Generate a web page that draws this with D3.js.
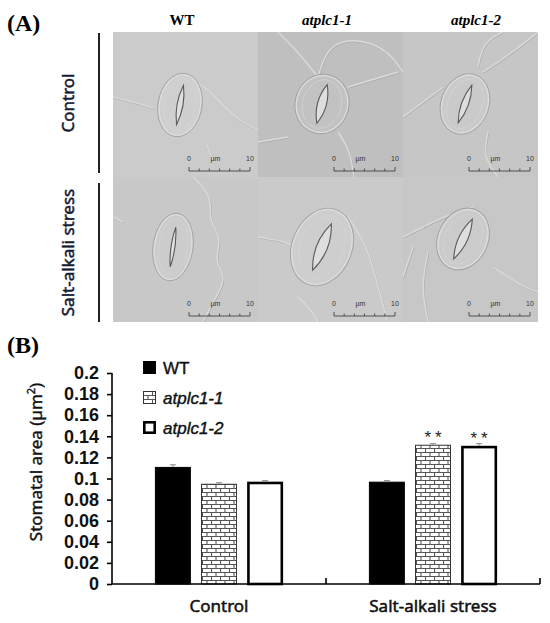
<!DOCTYPE html>
<html>
<head>
<meta charset="utf-8">
<script src="https://cdn.jsdelivr.net/npm/d3@7"></script>
<style>
body { margin: 0; background: #fff; }
</style>
</head>
<body>
<div id="chart"></div>
<script>
// dados do gráfico (B)
const categories = ["Control", "Salt-alkali stress"];
const series = ["WT", "atplc1-1", "atplc1-2"];
const wtValues = [0.111, 0.097];
const plc1Values = [0.095, 0.132];
const plc2Values = [0.097, 0.131];
const wtErrors = [0.002, 0.001];
const plc1Errors = [0.001, 0.001];
const plc2Errors = [0.001, 0.002];
const plc1Stars = ["", "**"];
const plc2Stars = ["", "**"];
const yTicks = [0, 0.02, 0.04, 0.06, 0.08, 0.1, 0.12, 0.14, 0.16, 0.18, 0.2];

// painel (A)
const columnTitles = ["WT", "atplc1-1", "atplc1-2"];
const rowTitles = ["Control", "Salt-alkali stress"];

const width = 550, height = 623;

const svg = d3.select("#chart").append("svg")
	.attr("width", width)
	.attr("height", height);

const defs = svg.append("defs");

// padrão de tijolos
const brick = defs.append("pattern")
	.attr("id", "brick")
	.attr("patternUnits", "userSpaceOnUse")
	.attr("width", 9).attr("height", 8);
brick.append("rect").attr("width", 9).attr("height", 8).attr("fill", "#fff");
brick.append("path")
	.attr("d", "M0,0.5H9M0,4.5H9M0.5,0.5V4.5M5,4.5V8.5")
	.attr("stroke", "#555").attr("stroke-width", 1.1).attr("fill", "none");

// ---------- painel A ----------
svg.append("text")
	.attr("x", 7).attr("y", 31)
	.attr("font-family", "Liberation Serif")
	.attr("font-weight", "bold")
	.attr("font-size", 24)
	.text("(A)");

const colX = [113, 258, 403];
const colW = [145, 145, 135];
const rowY = [32, 177];
const rowH = [145, 145];
const colTitleX = [182, 327, 476];

columnTitles.forEach((t, i) => {
	svg.append("text")
		.attr("x", colTitleX[i]).attr("y", 25)
		.attr("text-anchor", "middle")
		.attr("font-family", "Liberation Serif")
		.attr("font-weight", "bold")
		.attr("font-style", i === 0 ? "normal" : "italic")
		.attr("font-size", 15)
		.text(t);
});

const rowLines = [[33, 173], [183, 322]];
rowTitles.forEach((t, i) => {
	svg.append("line")
		.attr("x1", 99).attr("x2", 99)
		.attr("y1", rowLines[i][0]).attr("y2", rowLines[i][1])
		.attr("stroke", "#222").attr("stroke-width", 2);
	const cy = (rowLines[i][0] + rowLines[i][1]) / 2;
	svg.append("text")
		.attr("transform", `translate(74,${cy}) rotate(-90)`)
		.attr("text-anchor", "middle")
		.attr("font-family", "Noto Sans")
		.attr("font-size", 17)
		.attr("fill", "#141a33")
		.attr("stroke", "#141a33").attr("stroke-width", 0.5)
		.text(t);
});

// células (aproximação das imagens de microscopia)
const cells = [
	{ r: 0, c: 0, bg: "#cbcbcb", st: [67, 73, 22, 32, 10, 40, 6],
	  walls: [[[0, 65], [20, 70], [40, 76]], [[67, 41], [94, 55], [114, 78], [130, 91], [145, 98]], [[94, 113], [100, 128]]] },
	{ r: 0, c: 1, bg: "#bfbfbf", st: [64, 72, 27, 30, 15, 40, 9],
	  walls: [[[20, 0], [40, 20], [60, 45]], [[60, 45], [70, 12], [100, 6], [130, 18], [145, 40]], [[90, 55], [140, 40]], [[80, 100], [92, 118], [96, 145]], [[0, 110], [30, 105]]] },
	{ r: 0, c: 2, bg: "#c6c6c6", st: [62, 72, 24, 31, 20, 40, 7],
	  walls: [[[0, 85], [20, 70], [40, 55]], [[75, 35], [80, 10], [100, 0]], [[80, 40], [110, 20], [135, 0]], [[85, 100], [80, 125], [95, 145]]] },
	{ r: 1, c: 0, bg: "#c8c8c8", st: [60, 70, 20, 34, 8, 40, 4],
	  walls: [[[80, 0], [100, 20], [95, 45], [110, 60], [100, 85], [115, 100], [100, 125], [90, 145]], [[0, 40], [10, 45]]] },
	{ r: 1, c: 1, bg: "#cacaca", st: [64, 70, 30, 40, 22, 50, 11],
	  walls: [[[0, 60], [30, 65], [35, 70]], [[90, 40], [110, 70], [120, 110], [130, 145]], [[40, 120], [55, 135], [60, 145]]] },
	{ r: 1, c: 2, bg: "#c7c7c7", st: [60, 62, 25, 32, 25, 44, 9],
	  walls: [[[0, 60], [20, 50], [40, 40], [70, 30]], [[10, 70], [0, 100]], [[25, 75], [18, 110], [25, 145]], [[90, 90], [120, 110], [135, 115]]] }
];

const wallLine = d3.line().curve(d3.curveBasis);

cells.forEach((cell, k) => {
	const x = colX[cell.c], y = rowY[cell.r], w = colW[cell.c], h = rowH[cell.r];
	defs.append("clipPath").attr("id", "clip" + k)
		.append("rect").attr("width", w).attr("height", h);
	const g = svg.append("g")
		.attr("transform", `translate(${x},${y})`)
		.attr("clip-path", `url(#clip${k})`);
	g.append("rect").attr("width", w).attr("height", h).attr("fill", cell.bg);

	cell.walls.forEach(pts => {
		g.append("path").attr("d", wallLine(pts.map(p => [p[0] + 0.8, p[1] + 1])))
			.attr("fill", "none").attr("stroke", "#a8a8a8").attr("stroke-width", 0.9);
		g.append("path").attr("d", wallLine(pts))
			.attr("fill", "none").attr("stroke", "#dadada").attr("stroke-width", 1.4);
	});

	const [cx, cy, rx, ry, ang, len, sw] = cell.st;
	const s = g.append("g").attr("transform", `translate(${cx},${cy}) rotate(${ang})`);
	s.append("ellipse").attr("rx", rx).attr("ry", ry)
		.attr("fill", d3.color(cell.bg).brighter(0.05)).attr("stroke", "#a2a2a2").attr("stroke-width", 0.9);
	s.append("ellipse").attr("rx", rx - 1.5).attr("ry", ry - 1.5)
		.attr("fill", "none").attr("stroke", "#dddddd").attr("stroke-width", 1.2);
	s.append("ellipse").attr("rx", rx * 0.72).attr("ry", ry * 0.82)
		.attr("fill", "none").attr("stroke", "#d4d4d4").attr("stroke-width", 0.7);
	s.append("path")
		.attr("d", `M0,${-len / 2}Q${sw},0 0,${len / 2}Q${-sw},0 0,${-len / 2}Z`)
		.attr("fill", "#dedede").attr("stroke", "#5a5a5a").attr("stroke-width", 1.1);

	// barra de escala
	const bx1 = w - 69, bx2 = w - 8, by = h - 6;
	const sb = g.append("g").attr("fill", "#333").attr("font-family", "Liberation Sans").attr("font-size", 7);
	sb.append("text").attr("x", bx1).attr("y", by - 10).attr("text-anchor", "middle").text("0");
	sb.append("text").attr("x", (bx1 + bx2) / 2 - 4).attr("y", by - 10).attr("text-anchor", "middle").text("µm");
	sb.append("text").attr("x", bx2).attr("y", by - 10).attr("text-anchor", "middle").text("10");
	sb.append("line").attr("x1", bx1).attr("x2", bx2).attr("y1", by).attr("y2", by)
		.attr("stroke", "#333").attr("stroke-width", 0.8);
	d3.range(7).forEach(i => {
		const tx = bx1 + i * (bx2 - bx1) / 6;
		sb.append("line").attr("x1", tx).attr("x2", tx)
			.attr("y1", by).attr("y2", by - (i === 0 || i === 6 ? 4 : 2.5))
			.attr("stroke", "#333").attr("stroke-width", 0.8);
	});
});

// ---------- painel B ----------
svg.append("text")
	.attr("x", 7).attr("y", 353)
	.attr("font-family", "Liberation Serif")
	.attr("font-weight", "bold")
	.attr("font-size", 24)
	.text("(B)");

const xLeft = 112, xRight = 540, yBase = 584, yTop = 373;

const x0 = d3.scaleBand().domain(categories).range([xLeft, xRight]).paddingInner(0).paddingOuter(0);
const x1 = d3.scaleBand().domain(series).range([0, x0.bandwidth()]).paddingInner(0.22).paddingOuter(0.93);
const y = d3.scaleLinear().domain([0, 0.2]).range([yBase, yTop]);

const styles = {
	"WT": { fill: "#000", stroke: "#000", sw: 1 },
	"atplc1-1": { fill: "url(#brick)", stroke: "#333", sw: 1 },
	"atplc1-2": { fill: "#fff", stroke: "#000", sw: 2.6 }
};

const rows = categories.map((cat, i) => ({
	cat,
	bars: [
		{ s: "WT", v: wtValues[i], e: wtErrors[i], star: "" },
		{ s: "atplc1-1", v: plc1Values[i], e: plc1Errors[i], star: plc1Stars[i] },
		{ s: "atplc1-2", v: plc2Values[i], e: plc2Errors[i], star: plc2Stars[i] }
	]
}));

const group = svg.selectAll(".grupo")
	.data(rows)
	.enter().append("g")
	.attr("class", "grupo")
	.attr("transform", d => `translate(${x0(d.cat)},0)`);

const bar = group.selectAll(".barra")
	.data(d => d.bars)
	.enter().append("g")
	.attr("class", "barra");

bar.append("rect")
	.attr("x", d => x1(d.s) + styles[d.s].sw / 2)
	.attr("width", d => x1.bandwidth() - styles[d.s].sw)
	.attr("y", d => y(d.v) + styles[d.s].sw / 2)
	.attr("height", d => yBase - y(d.v) - styles[d.s].sw / 2)
	.attr("fill", d => styles[d.s].fill)
	.attr("stroke", d => styles[d.s].stroke)
	.attr("stroke-width", d => styles[d.s].sw);

// barras de erro
bar.append("path")
	.attr("d", d => {
		const cx = x1(d.s) + x1.bandwidth() / 2;
		const a = y(d.v + d.e), b = y(d.v);
		return `M${cx},${b}V${a}M${cx - 3},${a}H${cx + 3}`;
	})
	.attr("stroke", "#888").attr("stroke-width", 1).attr("fill", "none");

bar.filter(d => d.star).append("text")
	.attr("x", d => x1(d.s) + x1.bandwidth() / 2 + 2)
	.attr("y", d => y(d.v) - 2)
	.attr("text-anchor", "middle")
	.attr("font-family", "Liberation Sans")
	.attr("font-size", 17)
	.attr("letter-spacing", 4)
	.attr("fill", "#222")
	.text(d => d.star);

// eixo y
const yAxis = d3.axisLeft(y)
	.tickValues(yTicks)
	.tickSize(5)
	.tickPadding(8)
	.tickFormat(d => String(+d.toFixed(2)));

const gy = svg.append("g")
	.attr("transform", `translate(${xLeft},0)`)
	.call(yAxis);
gy.select(".domain").attr("stroke", "#000").attr("stroke-width", 1.6).attr("d", `M0,${yTop}V${yBase}`);
gy.selectAll(".tick line").attr("stroke", "#000").attr("stroke-width", 1.6);
gy.selectAll(".tick text")
	.attr("font-family", "Liberation Sans")
	.attr("font-weight", "bold")
	.attr("font-size", 18)
	.attr("fill", "#111");

// eixo x
const gx = svg.append("g");
gx.append("line")
	.attr("x1", xLeft).attr("x2", xRight)
	.attr("y1", yBase).attr("y2", yBase)
	.attr("stroke", "#000").attr("stroke-width", 1.6);
gx.selectAll(".xt")
	.data(categories)
	.enter().append("line")
	.attr("x1", d => x0(d) + x0.bandwidth())
	.attr("x2", d => x0(d) + x0.bandwidth())
	.attr("y1", yBase).attr("y2", yBase - 6)
	.attr("stroke", "#000").attr("stroke-width", 1.6);
gx.selectAll(".xl")
	.data(categories)
	.enter().append("text")
	.attr("x", d => x0(d) + x0.bandwidth() / 2)
	.attr("y", 612)
	.attr("text-anchor", "middle")
	.attr("font-family", "Noto Sans")
	.attr("font-size", 17)
	.attr("fill", "#111")
	.attr("stroke", "#111").attr("stroke-width", 0.5)
	.text(d => d);

// título do eixo y
svg.append("text")
	.attr("transform", "translate(42,462) rotate(-90)")
	.attr("text-anchor", "middle")
	.attr("font-family", "Noto Sans")
	.attr("font-size", 17)
	.attr("fill", "#111")
	.attr("stroke", "#111").attr("stroke-width", 0.4)
	.html('Stomatal area (µm<tspan baseline-shift="super" font-size="11">2</tspan>)');

// legenda
const legend = svg.append("g").attr("transform", "translate(143,361)");
const lg = legend.selectAll(".leg")
	.data(series)
	.enter().append("g")
	.attr("transform", (d, i) => `translate(0,${i * 30})`);
lg.append("rect")
	.attr("x", d => styles[d].sw / 2)
	.attr("y", d => styles[d].sw / 2)
	.attr("width", d => 13 - styles[d].sw)
	.attr("height", d => 13 - styles[d].sw)
	.attr("fill", d => styles[d].fill)
	.attr("stroke", d => styles[d].stroke)
	.attr("stroke-width", d => styles[d].sw);
lg.append("text")
	.attr("x", 20).attr("y", 12.5)
	.attr("font-family", "Liberation Sans")
	.attr("font-size", 17)
	.attr("font-style", d => d === "WT" ? "normal" : "italic")
	.attr("fill", "#111")
	.attr("stroke", "#111").attr("stroke-width", 0.4)
	.text(d => d);
</script>
</body>
</html>
